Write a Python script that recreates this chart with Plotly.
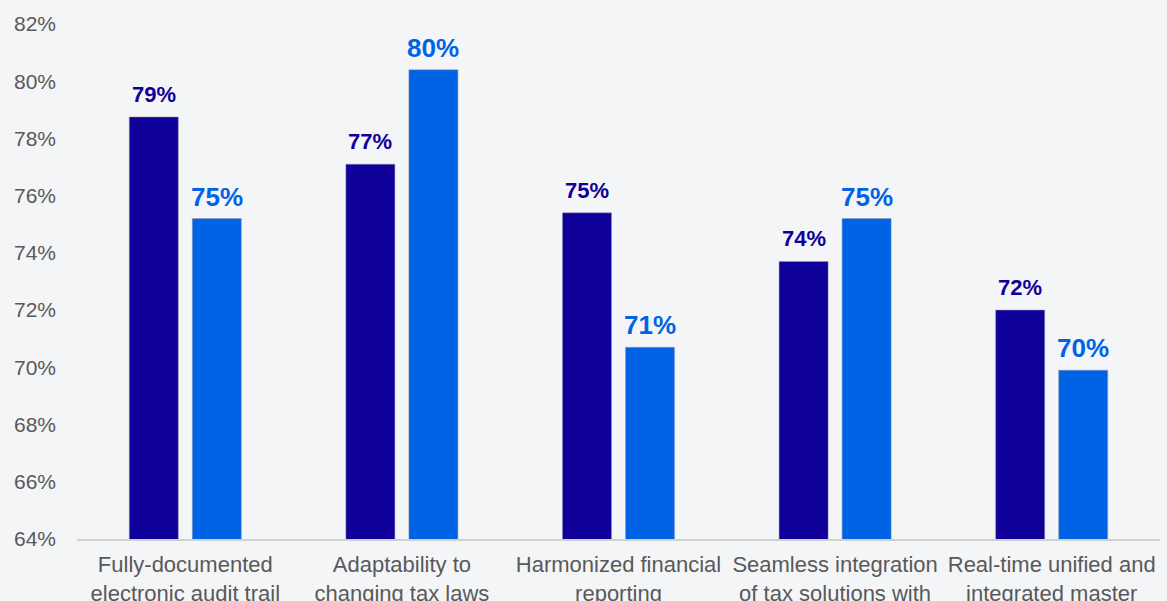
import plotly.graph_objects as go

categories = [
    "Fully-documented<br>electronic audit trail",
    "Adaptability to<br>changing tax laws",
    "Harmonized financial<br>reporting",
    "Seamless integration<br>of tax solutions with",
    "Real-time unified and<br>integrated master",
]
series_a = [78.75, 77.1, 75.4, 73.7, 72.0]
series_b = [75.2, 80.4, 70.7, 75.2, 69.9]
y_ticks = [64, 66, 68, 70, 72, 74, 76, 78, 80, 82]

NAVY = "#10009a"
BLUE = "#0063e6"
BG = "#f4f5f7"
FONT = "Arial, Liberation Sans, sans-serif"

fig = go.Figure()
for name, vals, color in [("A", series_a, NAVY), ("B", series_b, BLUE)]:
    fig.add_trace(go.Bar(
        x=categories, y=vals, name=name,
        marker=dict(color=color, line=dict(color="rgba(150,150,170,0.6)", width=0.8)),
        showlegend=False,
    ))

# value labels above each bar of the pair
slot_offset = 31.5
for vals, color, shift, size, lift in [
    (series_a, NAVY, -slot_offset, 22, 8),
    (series_b, BLUE, slot_offset, 26, 5),
]:
    for c, v in zip(categories, vals):
        fig.add_annotation(
            x=c, y=v, text=f"{round(v):d}%", showarrow=False,
            xshift=shift, yshift=lift, yanchor="bottom",
            font=dict(family=FONT, size=size, color=color, weight="bold"),
        )

fig.update_layout(
    width=1167, height=601,
    margin=dict(l=77, r=7, t=24, b=62, autoexpand=False),
    paper_bgcolor=BG, plot_bgcolor=BG,
    barmode="group", bargap=0.418, bargroupgap=0.222,
    font=dict(family=FONT, color="#595959"),
    xaxis=dict(
        showline=True, linecolor="#d0d0d0", linewidth=2,
        tickfont=dict(size=22, color="#595959"),
        ticks="", automargin=False, ticklabelstandoff=5,
    ),
    yaxis=dict(
        range=[64, 82], tickvals=y_ticks,
        ticktext=[f"{t}%" for t in y_ticks],
        showgrid=False, zeroline=False, showline=False,
        tickfont=dict(size=21, color="#595959"),
        automargin=False, ticklabelstandoff=20,
    ),
)

fig.write_html("out.html")
